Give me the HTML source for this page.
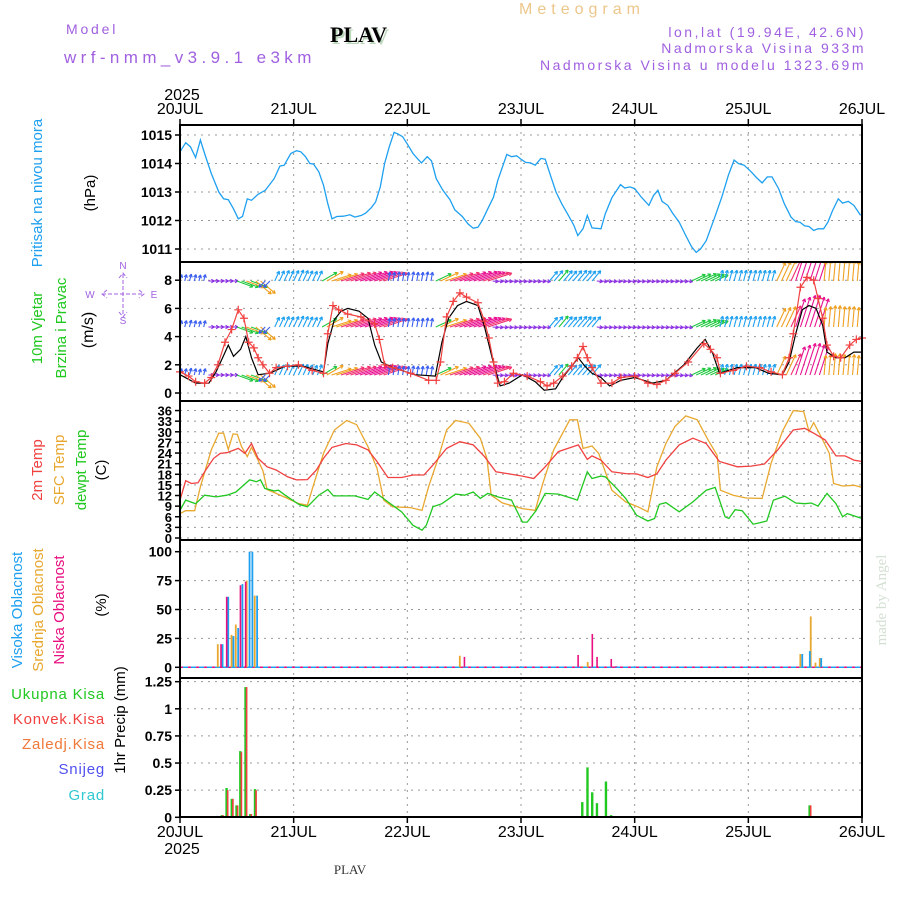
<!DOCTYPE html>
<html><head><meta charset="utf-8"><style>
body{margin:0;background:#fff;}
svg{display:block;font-family:"Liberation Sans",sans-serif;}
</style></head><body>
<svg id="chart" width="900" height="900" viewBox="0 0 900 900" xmlns="http://www.w3.org/2000/svg">
<rect width="900" height="900" fill="#fff"/>
<text x="582" y="14" fill="#ecc68a" font-size="16" text-anchor="middle" letter-spacing="5">Meteogram</text>
<text x="66" y="34" fill="#a060e0" font-size="14" letter-spacing="2.8">Model</text>
<text x="64" y="63" fill="#a060e0" font-size="17" letter-spacing="4.4">wrf-nmm_v3.9.1 e3km</text>
<text x="332" y="44" fill="#bcd8bc" font-size="22" font-weight="bold" font-family="Liberation Serif,serif">PLAV</text>
<text x="330" y="42" fill="#000" font-size="22" font-weight="bold" font-family="Liberation Serif,serif">PLAV</text>
<text x="866" y="37" fill="#a060e0" font-size="14" text-anchor="end" letter-spacing="2.5">lon,lat (19.94E, 42.6N)</text>
<text x="866" y="53" fill="#a060e0" font-size="14" text-anchor="end" letter-spacing="2.5">Nadmorska Visina 933m</text>
<text x="866" y="70" fill="#a060e0" font-size="14" text-anchor="end" letter-spacing="2.5">Nadmorska Visina u modelu 1323.69m</text>
<text transform="translate(886,600) rotate(-90)" fill="#d4e0d4" font-size="15" text-anchor="middle" font-family="Liberation Serif,serif">made by Angel</text>
<text x="350" y="874" fill="#333" font-size="13" text-anchor="middle" font-family="Liberation Serif,serif">PLAV</text>
<g id="g"></g>
</svg>
<script>
// ---------- DATA ----------
const dayLabels = ["20JUL","21JUL","22JUL","23JUL","24JUL","25JUL","26JUL"];
const presTicks = [1011,1012,1013,1014,1015];
const presHours = [0,1.2,2.2,3.3,4.3,5.2,6.6,8.2,9.2,10.2,11.3,12.3,13.2,14.2,15.1,16.5,18,19.9,21.1,22,23.4,24.6,25.5,26.5,27.4,28.2,29.3,30.3,31.2,32.1,33.1,34.5,35.9,36.9,38.3,39.2,40.4,41.3,42.3,43.2,44.2,45.2,46,47,47.9,49.2,50.1,51,52.2,53.1,54.1,55.5,57,58,59.6,60.8,61.9,62.9,63.8,65,66.2,67.1,68.1,69,70,71.1,72,73,74,75,76.2,77.1,78.2,79.4,80.6,82,83.2,84,85.1,86,87,88.9,89.8,91.2,93,93.9,95,96,97.4,99,100,100.9,101.8,103,104,105.4,106.8,108,109,109.9,111.1,112.8,114.4,115.8,117,117.9,119.1,120.6,121.7,122.9,124,125,126.4,127.6,129,130,130.9,131.9,132.8,133.8,134.7,135.9,136.8,137.8,139,139.9,141.1,142.3,143.7];
const presValues = [1014.41,1014.73,1014.59,1014.21,1014.82,1014.35,1013.65,1013.0,1012.76,1012.73,1012.41,1012.06,1012.14,1012.76,1012.71,1012.92,1013.06,1013.47,1013.91,1013.94,1014.35,1014.45,1014.41,1014.24,1014.0,1013.98,1013.71,1013.24,1012.59,1012.06,1012.14,1012.15,1012.2,1012.12,1012.18,1012.26,1012.45,1012.65,1013.18,1014.0,1014.59,1015.09,1015.04,1014.94,1014.71,1014.35,1014.18,1014.02,1014.24,1014.09,1013.47,1013.06,1012.73,1012.38,1012.14,1011.88,1011.73,1011.76,1012.0,1012.41,1012.82,1013.41,1013.88,1014.32,1014.24,1014.27,1014.15,1014.04,1014.02,1013.94,1014.18,1014.15,1013.59,1013.0,1012.59,1012.18,1011.82,1011.47,1011.71,1012.18,1011.74,1011.71,1012.24,1012.8,1013.26,1013.14,1013.18,1013.12,1012.82,1012.53,1012.88,1013.06,1012.67,1012.53,1012.26,1011.94,1011.47,1011.08,1010.88,1011.0,1011.29,1012.06,1012.82,1013.59,1014.12,1014.0,1013.94,1013.71,1013.51,1013.32,1013.53,1013.53,1013.12,1012.59,1012.12,1011.96,1011.94,1011.81,1011.79,1011.65,1011.71,1011.71,1011.94,1012.35,1012.76,1012.61,1012.67,1012.53,1012.18];

const windTicks = [0,2,4,6,8];
const gustHours = [0,1.8,3.3,5.2,6.6,8,9.5,10.9,12.3,13.5,14.5,15.6,16.5,17.5,18.9,20.3,22.7,25,27.9,30.3,31.2,32.3,33.5,35.4,38.2,41.1,42.1,43.2,44.9,48.7,52.5,54.1,55,56.3,57.7,59.1,60.5,62.9,64.3,65.2,66.2,67.1,68.5,70.4,73.3,76.1,77.5,78.9,80.8,82.7,83.9,85.1,86,87,88.9,91.2,93.1,96,98.8,100.7,102.6,104.5,107.3,110.6,112,113.4,114.1,116.8,119.6,122.4,124.8,127.2,128.6,129.5,131,132.4,133.8,134.7,135.7,136.6,138,139.5,141.4,142.8,144];
const gustValues = [1.5,1.2,0.8,0.7,1.1,2.0,3.6,4.5,5.9,5.3,3.6,3.2,2.5,2.0,1.4,1.8,1.9,2.0,1.6,1.4,4.2,6.2,5.9,5.6,5.4,4.9,3.8,2.0,1.8,1.4,0.9,0.9,2.2,5.4,6.5,7.1,6.8,6.4,5.1,3.9,2.2,0.7,0.8,1.4,1.2,0.8,0.5,0.7,1.2,1.9,2.5,3.3,2.5,1.8,0.7,0.7,1.1,1.2,0.7,0.6,0.9,1.4,2.2,3.5,3.1,2.5,1.4,1.6,1.9,1.8,1.5,1.3,2.5,4.2,7.5,8.2,8.0,6.7,5.3,3.4,2.6,2.5,3.4,3.8,3.9];
const speedHours = [0,3.3,6.1,7.6,9,10.2,11.3,12.8,13.9,15.1,16.5,18.9,22.2,26,30.3,31.2,32.6,34,35.4,37.8,39.7,41.1,42.5,44.9,49.6,53.9,55.3,56.7,58.6,60.5,62.9,64.3,66.2,67.6,69.5,72.3,75,76.9,79.3,80.8,82.7,84.1,85.5,87,88.9,90.7,93.1,96,99.8,102.6,106.4,109.2,110.9,112.5,113.9,117.7,121.5,124.3,127.2,128.6,130,131.4,132.8,134.3,135.7,136.6,138.5,140.4,142.3,144];
const speedValues = [1.3,0.7,0.7,1.5,2.5,3.4,2.6,3.1,4.0,2.5,1.3,1.4,1.9,1.9,1.5,3.5,5.2,5.8,6.0,5.8,5.3,3.4,2.2,1.8,1.3,1.2,3.6,5.3,6.2,6.5,6.2,4.7,2.1,0.5,0.7,1.3,0.8,0.2,0.3,1.1,1.9,2.5,1.9,1.4,1.1,0.5,0.9,1.1,0.7,0.9,2.0,3.2,3.8,2.8,1.4,1.8,1.8,1.4,1.3,2.2,4.2,5.9,6.2,6.0,4.8,2.9,2.5,2.5,2.9,2.9];
// hourly wind vectors, hours 0..144
const arrowDir = [75,75,75,75,75,75, 0,0,0,0,0,0, -20,-20,-20,-20, -40,-40, 225,225, 65,65,65,65,65,65,65,65,65,65, 30,30, 18,18,18,18,18,18,18,18,18,18,18,18, 80,80,80,80,80,80,80,80,80,80, 25,25, 18,18,18,18,18,18,18,18,18,18, -5,-5,-5,-5,-5,-5,-5,-5,-5,-5,-5,-5, 50,50,50,50,50,50,50,50,50,50, -5,-5,-5,-5,-5,-5,-5,-5,-5,-5,-5,-5,-5,-5,-5,-5,-5,-5,-5,-5, 25,25,25,25,25,25, 75,75,75,75,75,75,75,75,75,75,75,75, 65,65,65,65, 72,72,72,72,72,72, 85,85,85,85,85,85,85,85,85];
const arrowSpd = [1.5,1.5,1.6,1.5,1.4,1.5, 1.2,1.2,1.3,1.2,1.2,1.3, 3.8,4,4.2,4, 4.5,4.3, 2,2, 2.4,2.5,2.6,2.5,2.6,2.7,2.6,2.5,2.4,2.5, 3.8,4.2, 4.6,5,5.4,5.8,6,6.2,6.4,6.6,6.4,6.2,6,5.6, 2,2,2.1,2,2,2.1,2,2,2.1,2, 3.8,4.4, 5,5.4,5.8,6.2,6.4,6.6,6.4,6.2,6,5.6, 1.2,1.2,1.2,1.2,1.2,1.2,1.2,1.2,1.2,1.2,1.2,1.2, 2.8,3,3.2,3,2.9,3,3.1,3,2.9,3, 1.3,1.3,1.3,1.3,1.3,1.3,1.3,1.3,1.3,1.3,1.3,1.3,1.3,1.3,1.3,1.3,1.3,1.3,1.3,1.3, 3.4,3.6,3.8,3.6,3.4,3.2, 2.5,2.5,2.5,2.5,2.5,2.5,2.5,2.5,2.5,2.5,2.5,2.5, 4.6,4.8,5,5.2, 6.6,7,7.4,7.4,7,6.6, 4.4,4.6,4.8,4.8,4.6,4.6,4.6,4.4,4.4];

const tempTicks = [0,3,6,9,12,15,18,21,24,27,30,33,36];
const t2Hours = [0,1.2,2.4,3.8,5.2,7.1,8.5,9.9,12.3,13.7,15.1,16.5,18.4,20.3,22.7,24.6,26.9,28.8,30.3,32.1,35,37.3,39.7,41.6,43.9,46.8,49.2,51.5,53.4,56.3,59.1,61.9,64.3,66.7,69.5,72.3,74.7,77.1,79.9,84.1,86,87,88.9,91.2,94.1,96.4,98.8,100.7,102.6,105.4,108.3,111.1,113.9,117.7,120.6,123.4,126.2,129.5,131.9,133.8,136.2,138.5,140.4,142.3,144];
const t2Values = [10.7,16.2,15.4,15.6,18.7,22.5,23.9,24.1,25.3,23.9,26.7,22.5,20.1,19.2,17.3,16.4,16.5,19.2,22.5,25.6,26.7,26.3,24.9,21.6,17.1,17.1,17.8,17.8,20.6,25.3,27.2,26.3,23.0,18.7,18.1,17.5,16.8,20.1,24.4,26.3,22.2,23.2,22.0,18.7,18.2,18.1,17.1,18.1,22.0,26.3,28.2,26.7,21.6,20.1,20.3,20.9,24.9,30.5,31.0,29.6,27.7,23.2,23.2,22.0,21.6];
const sfcHours = [0,1.2,3.1,4.3,6.6,8.2,9.2,10.2,11.2,12.1,13,14.2,15.1,16.4,17.5,18.4,20.3,22.7,25.1,26.9,28.4,30.3,32.6,35.2,37.3,39.7,41.6,43,44.9,48.7,51.1,52.5,54.4,56.3,58.2,61,63.4,64.8,65.7,68.1,72.3,75,76.6,78.9,82.3,83.9,85.1,87,88.4,91.2,94.1,96.7,98.8,100.7,102.6,104.5,106.8,109.2,111.5,113.4,114.1,116.8,119.5,122.9,124.8,127.2,129.5,131.7,132.8,133.8,135.7,137.1,138,139.9,142.3,144];
const sfcValues = [6.9,7.7,7.7,14.5,24.9,29.6,29.6,25.0,29.4,29.3,25.8,23.0,25.6,22.2,19.0,13.7,12.6,11.2,9.7,9.3,15.9,23.9,30.5,33.2,32.0,25.8,19.7,10.7,8.8,8.6,7.8,14.5,22.0,30.5,33.2,32.4,28.2,22.5,12.1,9.9,8.3,7.8,15.4,24.9,33.4,33.4,25.3,26.0,23.9,13.5,10.2,8.8,7.4,20.1,26.7,31.5,34.5,33.4,27.7,23.4,13.5,12.1,11.3,11.2,21.1,30.1,36.0,35.7,30.1,32.6,27.7,23.9,15.4,14.7,14.9,14.3];
const dewHours = [0,1.2,3.3,5.2,7.6,9.9,11.8,14.7,16.1,17,17.9,19.9,20.8,22.2,25.1,26.9,29.3,31.2,32.4,36.9,39.7,41.1,43.9,46.8,49.2,51.1,52,53.4,55.3,58.2,60.1,61.9,63.4,65,67.1,70,72.3,73.3,75.2,77.1,79.9,82.3,83.9,86,87,88.9,89.8,92.2,94.1,96.4,98.8,100.2,101.2,102.6,105.4,108.3,111.1,113,115.1,115.9,117.2,118.7,121,122.4,123.9,125.3,127.7,130,131.9,133.3,134.7,136.6,138.5,139.9,140.9,144];
const dewValues = [7.8,10.7,9.7,12.1,11.6,12.1,13.0,16.4,15.9,16.4,14.0,13.3,13.5,12.1,9.5,8.8,12.1,13.7,11.9,11.9,10.9,13.0,10.2,7.4,3.6,2.2,3.6,8.8,9.7,12.4,12.1,13.0,11.2,12.6,11.6,10.7,4.5,4.5,7.8,12.6,12.4,11.4,10.7,18.7,16.8,17.5,17.3,14.0,11.2,6.4,4.8,5.5,9.5,10.0,7.4,10.2,13.5,14.3,6.0,5.5,8.0,7.7,3.9,4.3,4.8,10.7,11.8,9.9,9.7,9.9,9.0,12.6,9.7,6.0,6.9,5.5];

const cloudTicks = [0,25,50,75,100];
const highHours = [8.9,10.1,11.2,12.2,13.1,14.6,15.2,16.2,131.3,132.9,135.3];
const highValues = [20,61,27,34,72,100,100,62,11.5,14,8];
const midHours = [8.0,10.9,11.8,14.1,15.8,59.1,85,86.1,131,133.2,134.2,135.1];
const midValues = [20,28,37,75,62,10,1,4.6,11.5,44,4,8];
const lowHours = [8.7,9.9,12.8,13.9,60.1,84.1,87.1,88.1,91.1,92.1];
const lowValues = [20,61,71,74,9,10.7,28.8,9,7.2,1];

const precipTicks = [0,0.25,0.5,0.75,1,1.25];
const precipTickLabels = ["0","0.25","0.5","0.75","1","1.25"];
const precipHours = [8.9,9.9,11,12,12.8,13.9,14.9,15.9,85,86.1,87.1,88.1,89,90,91.1,131,133,134.2,135.1];
const totalPrecip = [0.02,0.27,0.17,0.11,0.61,1.2,0.03,0.26,0.14,0.46,0.23,0.13,0.01,0.33,0.02,0.01,0.11,0.01,0.01];
const convPrecip = [0.02,0.25,0.17,0.11,0.6,1.2,0.03,0.25,0,0,0,0,0,0,0,0,0.11,0,0.01];

// ---------- SCALES ----------
const X0=180, X1=862;
const xS = h => X0 + h*(X1-X0)/144;
const yP = p => 135 + (1015-p)*28.5;
const yW = v => 393 - v*14.1;
const yT = t => 538 - t*3.54;
const yC = c => 667.3 - c*1.156;
const yR = r => 817.3 - r*108.5;
const panels = [[125,262],[262,401],[401,540],[540,678],[678,817]];

const NS="http://www.w3.org/2000/svg";
const G=document.getElementById('g');
function mk(tag, attrs, parent){const e=document.createElementNS(NS,tag);for(const k in attrs)e.setAttribute(k,attrs[k]);(parent||G).appendChild(e);return e;}
function txt(s, attrs){const e=mk('text',attrs);e.textContent=s;return e;}

panels.forEach((p,i)=>{
  for(let d=1; d<6; d++){
    const gl=mk('line',{x1:xS(d*24),x2:xS(d*24),y1:p[0],y2:p[1],stroke:'#999','stroke-dasharray':'2,5','stroke-width':1});
    
    
  }
});
function hgrid(ticks, yf, fmt, labels){
  ticks.forEach((t,i)=>{
    const gl=mk('line',{x1:X0,x2:X1,y1:yf(t),y2:yf(t),stroke:'#999','stroke-dasharray':'2,5','stroke-width':1});
    
    
    mk('line',{x1:X0-5,x2:X0,y1:yf(t),y2:yf(t),stroke:'#000','stroke-width':1.5});
    const tl=txt(labels?labels[i]:String(t),{x:X0-8,y:yf(t)+5,'font-size':fmt,'font-weight':'bold','text-anchor':'end',fill:'#000'});
    
    
  });
}
hgrid(presTicks,yP,14);
hgrid(windTicks,yW,14);
hgrid(tempTicks,yT,13);
hgrid(cloudTicks,yC,14);
hgrid(precipTicks,yR,14,precipTickLabels);

function poly(hs, vs, yf, color, name, w){
  const pts=hs.map((h,i)=>xS(h).toFixed(1)+','+yf(vs[i]).toFixed(1)).join(' ');
  const l=mk('polyline',{points:pts,fill:'none',stroke:color,'stroke-width':w||1.3});
  
  
  return l;
}
poly(presHours,presValues,yP,'#1ea0f0','pressure-line');

const cp=mk('clipPath',{id:'wclip'}); mk('rect',{x:X0,y:262,width:X1-X0,height:139},cp);
const wg=mk('g',{'clip-path':'url(#wclip)'});
function spdColor(s){ if(s<1.4)return '#8a2be2'; if(s<2.2)return '#3a5ef0'; if(s<3.2)return '#1ea0f0'; if(s<4.2)return '#20c840'; if(s<5.2)return '#f0a020'; if(s<6.2)return '#f03070'; return '#e81090';}
[281,327,375].forEach(ry=>{
  arrowSpd.forEach((s,h)=>{
    const a=arrowDir[h]*Math.PI/180, L=Math.max(6,s*4.5), x=xS(h), x2=x+L*Math.cos(a), y2=ry-L*Math.sin(a);
    const c=spdColor(s);
    const ar=mk('path',{d:`M${x},${ry}L${x2},${y2}M${x2},${y2}L${x2-3.5*Math.cos(a-0.5)},${y2+3.5*Math.sin(a-0.5)}M${x2},${y2}L${x2-3.5*Math.cos(a+0.5)},${y2+3.5*Math.sin(a+0.5)}`,stroke:c,'stroke-width':1.1,fill:'none'},wg);
    
    
  });
});
poly(speedHours,speedValues,yW,'#000','wind-speed-line',1.2);
poly(gustHours,gustValues,yW,'#f04040','wind-gust-line',1.2);
gustHours.forEach((h,i)=>{
  const x=xS(h), y=yW(gustValues[i]);
  const m=mk('path',{d:`M${x-4},${y}H${x+4}M${x},${y-4}V${y+4}`,stroke:'#f04040','stroke-width':1.2});
  
  
});

poly(sfcHours,sfcValues,yT,'#e8a830','sfc-temp-line');
poly(t2Hours,t2Values,yT,'#f04040','temp-2m-line');
poly(dewHours,dewValues,yT,'#20c820','dewpoint-line');

mk('line',{x1:X0,x2:X1,y1:yC(0),y2:yC(0),stroke:'#1ea0f0','stroke-width':1.5});
mk('line',{x1:X0,x2:X1,y1:yC(0),y2:yC(0),stroke:'#e81080','stroke-width':1.5,'stroke-dasharray':'3,5'});
function bars(hs,vs,yf,color,off,w,name){
  hs.forEach((h,i)=>{
    const y=yf(vs[i]);
    const b=mk('rect',{x:xS(h)+off,y:y,width:w,height:Math.max(0,yf(0)-y),fill:color});
    
    
  });
}
bars(midHours,midValues,yC,'#e8a830',-1,1.8,'mid-cloud-bar');
bars(highHours,highValues,yC,'#1ea0f0',-0.5,1.8,'high-cloud-bar');
bars(lowHours,lowValues,yC,'#e81080',-1,1.6,'low-cloud-bar');
bars(precipHours,totalPrecip,yR,'#20c820',-1.5,2.4,'total-precip-bar');
bars(precipHours,convPrecip,yR,'#f04040',0,1.6,'conv-precip-bar');

panels.forEach(p=>{
  const f=mk('rect',{x:X0,y:p[0],width:X1-X0,height:p[1]-p[0],fill:'none',stroke:'#000','stroke-width':2});
  
  
});
dayLabels.forEach((d,i)=>{
  const x=xS(i*24);
  mk('line',{x1:x,x2:x,y1:119,y2:125,stroke:'#000','stroke-width':1.5});
  mk('line',{x1:x,x2:x,y1:817,y2:823,stroke:'#000','stroke-width':1.5});
  const t1=txt(d,{x:x,y:114,'font-size':16,'text-anchor':'middle',fill:'#000'});
  
  
  const t2=txt(d,{x:x,y:837,'font-size':16,'text-anchor':'middle',fill:'#000'});
  
  
});
const yr1=txt('2025',{x:182,y:100,'font-size':16,'text-anchor':'middle',fill:'#000'});


const yr2=txt('2025',{x:182,y:854,'font-size':16,'text-anchor':'middle',fill:'#000'});



function rot(s,x,y,color,size,name){
  const t=txt(s,{transform:`translate(${x},${y}) rotate(-90)`,'font-size':size,'text-anchor':'middle',fill:color});
  
  
}
rot('Pritisak na nivou mora',42,193,'#1ea0f0',15,'pressure-title');
rot('(hPa)',95,193,'#000',15,'pressure-unit');
rot('10m Vjetar',42,328,'#20c820',15,'wind-title');
rot('Brzina i Pravac',66,328,'#20c820',15,'wind-subtitle');
rot('(m/s)',93,330,'#000',16,'wind-unit');
rot('2m Temp',42,470,'#f04040',15,'temp-2m-title');
rot('SFC Temp',64,470,'#e8a830',15,'sfc-temp-title');
rot('dewpt Temp',86,470,'#20c820',15,'dewpoint-title');
rot('(C)',106,470,'#000',15,'temp-unit');
rot('Visoka Oblacnost',22,610,'#1ea0f0',15,'high-cloud-title');
rot('Srednja Oblacnost',43,610,'#e8a830',15,'mid-cloud-title');
rot('Niska Oblacnost',64,610,'#e81080',15,'low-cloud-title');
rot('(%)',106,605,'#000',15,'cloud-unit');
rot('1hr Precip (mm)',125,720,'#000',15,'precip-title');
[['Ukupna Kisa','#20c820',699],['Konvek.Kisa','#f04040',724],['Zaledj.Kisa','#f07838',749],['Snijeg','#5050f0',774],['Grad','#30c8d0',800]].forEach(r=>{
  const t=txt(r[0],{x:105,y:r[2],'font-size':15,'text-anchor':'end',fill:r[1],'letter-spacing':'0.8'});
  
  
});
const cc='#a060e0';
[['N',123,269],['S',123,324],['W',90,298],['E',154,298]].forEach(c=>{
  const t=txt(c[0],{x:c[1],y:c[2],'font-size':10,'text-anchor':'middle',fill:cc});
  
  
});
const comp=mk('path',{d:'M123,274V316M102,294H144M119,278L123,273L127,278M119,312L123,317L127,312M107,290L102,294L107,298M139,290L144,294L139,298',stroke:cc,'stroke-width':1,fill:'none','stroke-dasharray':'4,2'});


</script>
</body></html>
